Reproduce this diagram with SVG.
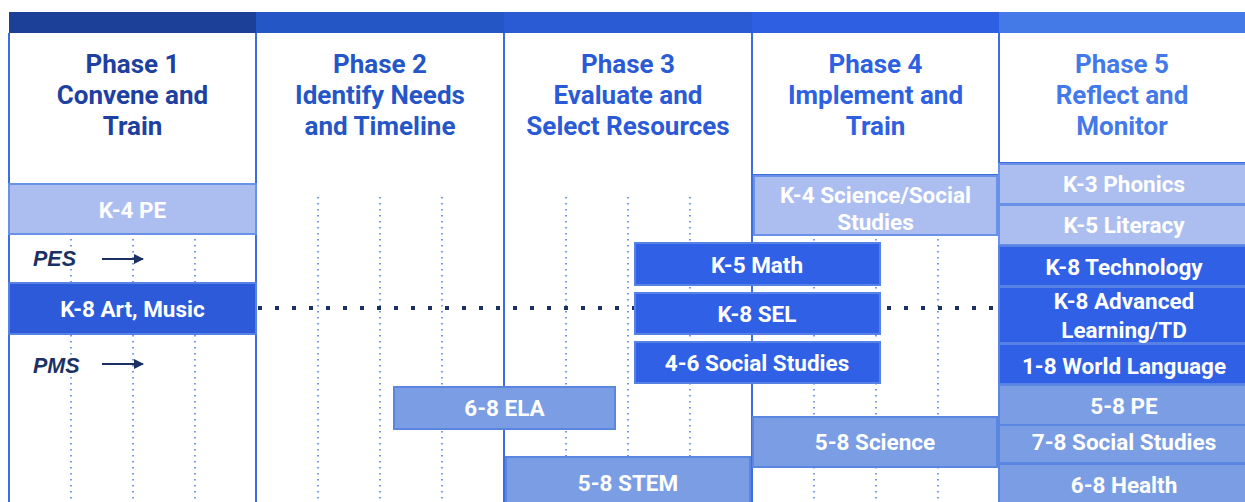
<svg xmlns="http://www.w3.org/2000/svg" width="1245" height="502" viewBox="0 0 1245 502">
<style>
.ph{font-family:Roboto,"Liberation Sans",sans-serif;font-weight:700;font-size:26px;text-anchor:middle}
.bt{font-family:Roboto,"Liberation Sans",sans-serif;font-weight:700;font-size:22.5px;fill:#fff;text-anchor:middle;dominant-baseline:central}
.lab{font-family:"Liberation Sans",Arial,sans-serif;font-weight:700;font-style:italic;font-size:21.5px;fill:#1b3163}
.col{fill:none;stroke:#3d6ee0;stroke-width:2}
.grid{stroke:#4a78e4;stroke-width:1.5;stroke-dasharray:1.5 4.5}
.light{fill:#abbeef;stroke:#6a91e8;stroke-width:2}
.dark{fill:#2c5ad8;stroke:#5582e4;stroke-width:2}
.dark5{fill:#2f60e6;stroke:#5582e4;stroke-width:2}
.med{fill:#7a9de3;stroke:#5a86e2;stroke-width:2}
</style>
<defs>
<marker id="ah" viewBox="0 0 10 10" refX="9" refY="5" markerWidth="6" markerHeight="5" orient="auto" markerUnits="strokeWidth">
<path d="M0,0 L10,5 L0,10 z" fill="#1b3163"/>
</marker>
</defs>
<rect width="1245" height="502" fill="#fff"/>
<g id="columns">
<rect x="9" y="12" width="247" height="21" fill="#1c3f98"/>
<rect x="256" y="12" width="248" height="21" fill="#2456c6"/>
<rect x="504" y="12" width="248" height="21" fill="#2a5ad4"/>
<rect x="752" y="12" width="247" height="21" fill="#2e5ee2"/>
<rect x="999" y="12" width="246" height="21" fill="#437ae8"/>
<line class="col" x1="9" y1="33" x2="9" y2="502"/>
<line class="col" x1="256" y1="33" x2="256" y2="502"/>
<line class="col" x1="504" y1="33" x2="504" y2="502"/>
<line class="col" x1="752" y1="33" x2="752" y2="502"/>
<line class="col" x1="999" y1="33" x2="999" y2="502"/>
<line class="col" x1="752" y1="175" x2="999" y2="175"/>
<line class="col" x1="999" y1="163" x2="1245" y2="163"/>
</g>
<g id="grid">
<line class="grid" x1="71" y1="197" x2="71" y2="502"/>
<line class="grid" x1="133" y1="197" x2="133" y2="502"/>
<line class="grid" x1="195" y1="197" x2="195" y2="502"/>
<line class="grid" x1="318" y1="197" x2="318" y2="502"/>
<line class="grid" x1="380" y1="197" x2="380" y2="502"/>
<line class="grid" x1="442" y1="197" x2="442" y2="502"/>
<line class="grid" x1="566" y1="197" x2="566" y2="502"/>
<line class="grid" x1="628" y1="197" x2="628" y2="502"/>
<line class="grid" x1="690" y1="197" x2="690" y2="502"/>
<line class="grid" x1="814" y1="197" x2="814" y2="502"/>
<line class="grid" x1="876" y1="197" x2="876" y2="502"/>
<line class="grid" x1="938" y1="197" x2="938" y2="502"/>
</g>
<g id="phase1"><text class="ph" fill="#1e40a0"><tspan x="132.5" y="73">Phase 1</tspan><tspan x="132.5" y="104">Convene and</tspan><tspan x="132.5" y="135">Train</tspan></text></g>
<g id="phase2"><text class="ph" fill="#2456c8"><tspan x="380" y="73">Phase 2</tspan><tspan x="380" y="104">Identify Needs</tspan><tspan x="380" y="135">and Timeline</tspan></text></g>
<g id="phase3"><text class="ph" fill="#2a5ad6"><tspan x="628" y="73">Phase 3</tspan><tspan x="628" y="104">Evaluate and</tspan><tspan x="628" y="135">Select Resources</tspan></text></g>
<g id="phase4"><text class="ph" fill="#2e60e2"><tspan x="875.5" y="73">Phase 4</tspan><tspan x="875.5" y="104">Implement and</tspan><tspan x="875.5" y="135">Train</tspan></text></g>
<g id="phase5"><text class="ph" fill="#4479ea"><tspan x="1122" y="73">Phase 5</tspan><tspan x="1122" y="104">Reflect and</tspan><tspan x="1122" y="135">Monitor</tspan></text></g>
<g id="connectors">
<line x1="258" y1="308" x2="999" y2="308" stroke="#1b3163" stroke-width="4" stroke-dasharray="4 13"/>
<line x1="102" y1="259" x2="143" y2="259" stroke="#1b3163" stroke-width="2" marker-end="url(#ah)"/>
<line x1="102" y1="364" x2="143" y2="364" stroke="#1b3163" stroke-width="2" marker-end="url(#ah)"/>
</g>
<g id="pes"><text class="lab" x="33" y="266">PES</text></g>
<g id="pms"><text class="lab" x="33" y="373">PMS</text></g>
<g id="k4pe"><rect class="light" x="9" y="184" width="247" height="50"/><text class="bt" x="132.5" y="210">K-4 PE</text></g>
<g id="k8art"><rect class="dark" x="9" y="283" width="247" height="51"/><text class="bt" x="132.5" y="309">K-8 Art, Music</text></g>
<g id="k4sci"><rect class="light" x="754" y="176" width="243" height="59"/><text class="bt" x="875.5" y="195">K-4 Science/Social</text><text class="bt" x="875.5" y="222">Studies</text></g>
<g id="k5math"><rect class="dark5" x="635" y="243" width="245" height="42"/><text class="bt" x="757" y="265">K-5 Math</text></g>
<g id="k8sel"><rect class="dark5" x="635" y="293" width="245" height="41"/><text class="bt" x="757" y="314">K-8 SEL</text></g>
<g id="ss46"><rect class="dark5" x="635" y="342" width="245" height="41"/><text class="bt" x="757" y="363">4-6 Social Studies</text></g>
<g id="ela68"><rect class="med" x="394" y="387" width="221" height="42"/><text class="bt" x="504.5" y="408">6-8 ELA</text></g>
<g id="stem58"><rect class="med" x="506" y="457" width="244" height="50"/><text class="bt" x="628" y="483">5-8 STEM</text></g>
<g id="sci58"><rect class="med" x="753" y="417" width="244" height="50"/><text class="bt" x="875" y="442">5-8 Science</text></g>
<g id="k3ph"><rect class="light" x="999" y="164" width="250" height="40"/><text class="bt" x="1124" y="184">K-3 Phonics</text></g>
<g id="k5lit"><rect class="light" x="999" y="205" width="250" height="40"/><text class="bt" x="1124" y="225">K-5 Literacy</text></g>
<g id="k8tech"><rect class="dark5" x="999" y="246" width="250" height="40"/><text class="bt" x="1124" y="267">K-8 Technology</text></g>
<g id="k8adv"><rect class="dark5" x="999" y="287" width="250" height="56"/><text class="bt" x="1124" y="301">K-8 Advanced</text><text class="bt" x="1124" y="330">Learning/TD</text></g>
<g id="wl18"><rect class="dark5" x="999" y="344" width="250" height="40"/><text class="bt" x="1124" y="366">1-8 World Language</text></g>
<g id="pe58"><rect class="med" x="999" y="385" width="250" height="40"/><text class="bt" x="1124" y="406">5-8 PE</text></g>
<g id="ss78"><rect class="med" x="999" y="425" width="250" height="38"/><text class="bt" x="1124" y="442">7-8 Social Studies</text></g>
<g id="health68"><rect class="med" x="999" y="464" width="250" height="45"/><text class="bt" x="1124" y="485">6-8 Health</text></g>
</svg>
